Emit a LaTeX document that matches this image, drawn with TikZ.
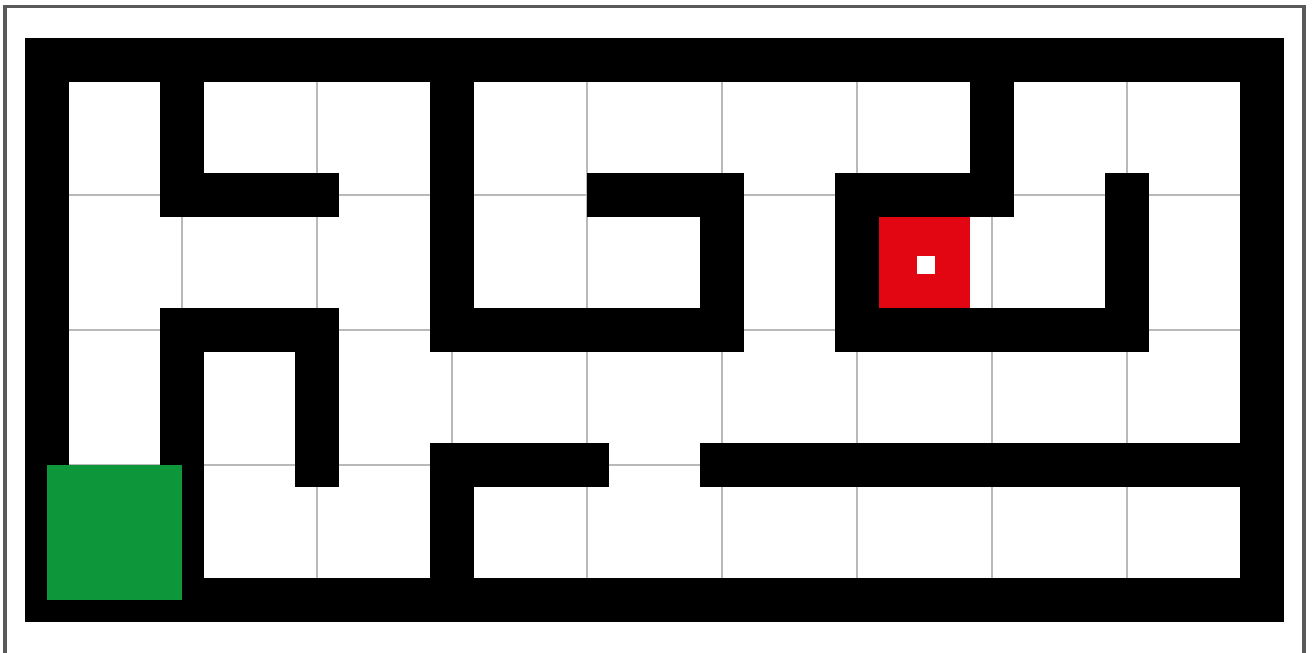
\documentclass[tikz,border=0pt]{standalone}
\definecolor{startgreen}{RGB}{14,150,58}
\definecolor{goalred}{RGB}{226,6,19}
\begin{document}
\begin{tikzpicture}[
    mazegrid/.style={draw=gray!55, line width=0.3pt},
    wall/.style={draw=black, line width=0.32cm, line join=miter},
    frameline/.style={draw=black!65, line width=0.7pt},
    startcell/.style={fill=startgreen},
    goalcell/.style={fill=goalred}
]
\useasboundingbox (-0.348,-0.393) rectangle (9.378,4.444);
% Frame
\draw[frameline] (-0.311,-0.7) rectangle (9.311,4.396);

% Grid
\draw[mazegrid] (0,0) grid (9,4);

% Outer walls
\draw[wall] (0,0) rectangle (9,4);

% Inner walls (free ends stick out by half a wall)
\draw[wall] (1,4) -- (1,3) -- (2.16,3);
\draw[wall] (4,3) -- (5,3) -- (5,2) -- (3,2) -- (3,4);
\draw[wall] (7,4) -- (7,3) -- (6,3) -- (6,2) -- (8,2) -- (8,3.16);
\draw[wall] (1,0) -- (1,2) -- (2,2) -- (2,0.84);
\draw[wall] (3,0) -- (3,1) -- (4.16,1);
\draw[wall] (4.84,1) -- (9,1);

% Start and goal
\fill[startcell] (0,0) rectangle (1,1);
\fill[goalcell] (6.16,2.16) rectangle (6.84,2.84);
\fill[white] (6.445,2.415) rectangle (6.575,2.545);
\end{tikzpicture}
\end{document}
